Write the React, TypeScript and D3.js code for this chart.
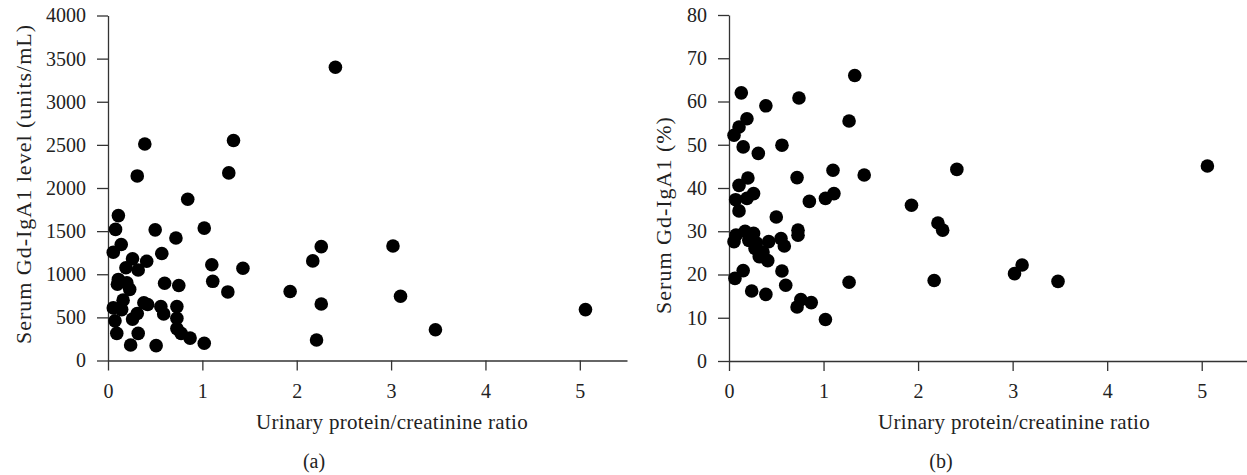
import React, { useEffect, useRef } from "react";
import * as d3 from "d3";

// panel (a): urinary protein/creatinine ratio vs serum Gd-IgA1 level
const ratioA = [
  0.39, 1.33, 0.31, 1.28, 0.845, 0.11, 0.08, 0.5, 1.02, 0.72, 0.14, 0.056, 0.57, 0.26, 0.41,
  0.19, 0.32, 1.1, 1.43, 0.11, 0.1, 0.2, 0.23, 0.6, 0.75, 1.11, 1.27, 1.93, 0.16, 0.056,
  0.145, 0.38, 0.42, 0.56, 0.73, 0.59, 0.31, 0.26, 0.73, 0.074, 0.73, 0.775, 0.093, 0.32,
  0.87, 0.24, 0.51, 1.02, 2.26, 3.02, 2.17, 2.26, 3.1, 3.47, 2.21, 2.41, 5.06,
];
const levelA = [
  2510, 2550, 2140, 2175, 1870, 1680, 1520, 1515, 1535, 1420, 1345, 1255, 1240, 1180, 1150,
  1075, 1050, 1110, 1070, 940, 885, 900, 825, 895, 870, 918, 795, 800, 700, 610,
  590, 670, 650, 625, 625, 540, 545, 480, 490, 460, 370, 315, 315, 315,
  260, 180, 172, 200, 1320, 1328, 1155, 655, 745, 357, 238, 3400, 590,
];

// panel (b): urinary protein/creatinine ratio vs serum Gd-IgA1 (%)
const ratioB = [
  1.33, 0.13, 0.74, 0.39, 0.19, 1.27, 0.106, 0.053, 0.56, 0.15, 0.31, 1.1, 1.43, 0.2, 0.72,
  0.106, 0.26, 1.11, 1.02, 0.19, 0.07, 0.85, 1.93, 0.106, 0.5, 0.73, 0.73, 0.17, 0.074, 0.053,
  0.26, 0.21, 0.29, 0.42, 0.55, 0.585, 0.275, 0.32, 0.41, 0.36, 0.15, 0.063, 0.56, 0.6, 1.27,
  0.24, 0.39, 0.76, 0.87, 0.72, 1.02, 2.41, 5.06, 2.21, 2.26, 2.17, 3.1, 3.02, 3.48,
];
const pctB = [
  66.0, 62.0, 60.8, 59.0, 56.0, 55.5, 54.1, 52.2, 49.9, 49.5, 48.0, 44.1, 43.0, 42.3, 42.4,
  40.6, 38.7, 38.7, 37.6, 37.6, 37.3, 36.9, 36.0, 34.7, 33.3, 30.25, 29.1, 30.0, 29.1, 27.6,
  29.5, 27.9, 27.3, 27.6, 28.3, 26.6, 26.0, 24.1, 23.2, 25.2, 20.9, 19.1, 20.8, 17.5, 18.2,
  16.2, 15.4, 14.2, 13.5, 12.5, 9.6, 44.3, 45.1, 31.9, 30.25, 18.6, 22.2, 20.2, 18.4,
];

const xTicks = [0, 1, 2, 3, 4, 5];
const yTicksA = [0, 500, 1000, 1500, 2000, 2500, 3000, 3500, 4000];
const yTicksB = [0, 10, 20, 30, 40, 50, 60, 70, 80];

const FONT = "'Liberation Serif', 'Times New Roman', serif";

const App = () => {
  const svgRef = useRef<SVGSVGElement>(null);

  useEffect(() => {
    document.body.style.margin = "0";
    const svg = d3.select(svgRef.current);
    svg.selectAll("*").remove();

    const panels = [
      {
        xs: ratioA, ys: levelA, yTicks: yTicksA, yMax: 4000,
        left: 108, right: 627, top: 15.5, bottom: 360.5,
        yLabel: "Serum Gd-IgA1 level (units/mL)", yLabelX: 31, yLabelY: 184,
        xLabelX: 392, tag: "(a)", tagX: 314,
      },
      {
        xs: ratioB, ys: pctB, yTicks: yTicksB, yMax: 80,
        left: 729, right: 1249, top: 15, bottom: 361,
        yLabel: "Serum Gd-IgA1 (%)", yLabelX: 671, yLabelY: 215,
        xLabelX: 1014, tag: "(b)", tagX: 941,
      },
    ];

    panels.forEach((p) => {
      const x = d3.scaleLinear().domain([0, 5.5]).range([p.left, p.right]);
      const y = d3.scaleLinear().domain([0, p.yMax]).range([p.bottom, p.top]);
      const g = svg.append("g");

      // axes
      const xAxis = g
        .append("g")
        .attr("transform", `translate(0,${p.bottom})`)
        .call(d3.axisBottom(x).tickValues(xTicks).tickSize(10).tickSizeOuter(0).tickPadding(13).tickFormat(d3.format("d")));
      const yAxis = g
        .append("g")
        .attr("transform", `translate(${p.left},0)`)
        .call(d3.axisLeft(y).tickValues(p.yTicks).tickSize(11).tickSizeOuter(0).tickPadding(11).tickFormat(d3.format("d")));

      [xAxis, yAxis].forEach((a) => {
        a.selectAll("path, line").attr("stroke", "#333").attr("stroke-width", 1.3);
        a.selectAll("text")
          .attr("fill", "#222")
          .style("font-family", FONT)
          .style("font-size", "20px");
      });

      // points
      g.append("g")
        .selectAll("circle")
        .data(p.xs.map((v, i) => [v, p.ys[i]]))
        .join("circle")
        .attr("cx", (d) => x(d[0]))
        .attr("cy", (d) => y(d[1]))
        .attr("r", 6.8)
        .attr("fill", "#000");

      // labels
      g.append("text")
        .attr("x", p.xLabelX)
        .attr("y", 429)
        .attr("text-anchor", "middle")
        .attr("fill", "#222")
        .style("font-family", FONT)
        .style("font-size", "21px")
        .style("letter-spacing", "0.3px")
        .text("Urinary protein/creatinine ratio");

      g.append("text")
        .attr("transform", `translate(${p.yLabelX},${p.yLabelY}) rotate(-90)`)
        .attr("text-anchor", "middle")
        .attr("fill", "#222")
        .style("font-family", FONT)
        .style("font-size", "22px")
        .style("letter-spacing", "1px")
        .text(p.yLabel);

      g.append("text")
        .attr("x", p.tagX)
        .attr("y", 468)
        .attr("text-anchor", "middle")
        .attr("fill", "#222")
        .style("font-family", FONT)
        .style("font-size", "20px")
        .text(p.tag);
    });
  }, []);

  return <svg ref={svgRef} width={1247} height={475} style={{ display: "block", background: "#fff" }}></svg>;
};

export default App;
